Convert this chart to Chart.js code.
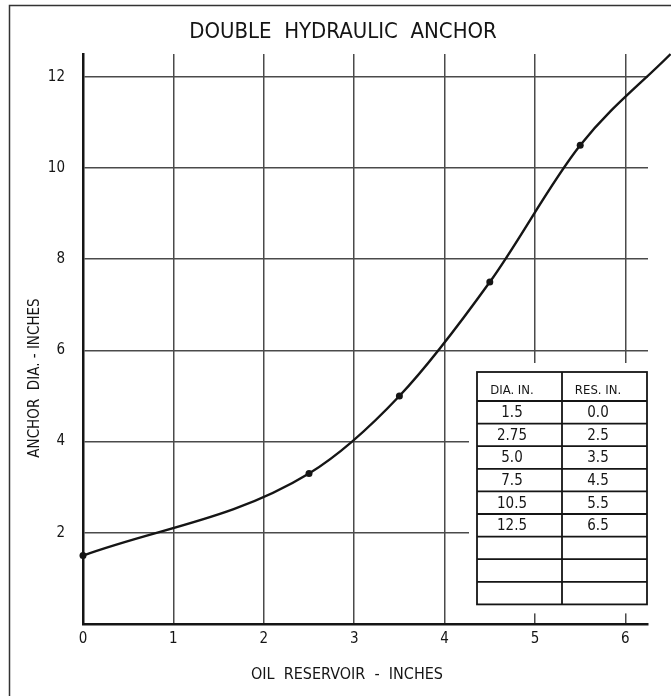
<!DOCTYPE html>
<html>
<head>
<meta charset="utf-8">
<script src="https://cdn.jsdelivr.net/npm/chart.js@4.4.0/dist/chart.umd.min.js"></script>
<style>
body { margin: 0; background: #fff; }
#wrap { width: 671px; height: 696px; position: relative; }
</style>
</head>
<body>
<div id="wrap"><canvas id="chart"></canvas></div>
<script>
// table values, as written on the sheet
const tableDia = ['1.5', '2.75', '5.0', '7.5', '10.5', '12.5'];
const tableRes = ['0.0', '2.5', '3.5', '4.5', '5.5', '6.5'];
const emptyRows = 3;

// dots as they are plotted on the graph (the 2.5 dot sits higher than the table says)
const plotRes = [0.0, 2.5, 3.5, 4.5, 5.5, 6.5];
const plotDia = [1.5, 3.3, 5.0, 7.5, 10.5, 12.5];

const xTickValues = [0, 1, 2, 3, 4, 5, 6];
const yTickValues = [0, 2, 4, 6, 8, 10, 12];

const FONT = '"Liberation Sans Narrow", "DejaVu Sans Condensed", "Liberation Sans", sans-serif';
const INK = '#151515';

const points = plotRes.map((r, i) => ({ x: r, y: plotDia[i] }));

// frame + white background
const framePlugin = {
    id: 'frame',
    beforeDraw(chart) {
        const ctx = chart.ctx;
        ctx.save();
        ctx.fillStyle = '#fff';
        ctx.fillRect(0, 0, chart.width, chart.height);
        ctx.strokeStyle = '#333';
        ctx.lineWidth = 1.5;
        ctx.strokeRect(9.5, 5.5, 720, 720);
        ctx.restore();
    }
};

// axis titles, placed like on the drawing
const axisTitlePlugin = {
    id: 'axisTitles',
    afterDraw(chart) {
        const ctx = chart.ctx;
        ctx.save();
        ctx.fillStyle = INK;
        ctx.textAlign = 'center';
        ctx.textBaseline = 'middle';
        ctx.font = '16px ' + FONT;
        ctx.fillText('OIL  RESERVOIR  -  INCHES', 347, 675);
        ctx.font = '15px ' + FONT;
        ctx.translate(35, 378);
        ctx.rotate(-Math.PI / 2);
        ctx.fillText('ANCHOR  DIA. - INCHES', 0, 0);
        ctx.restore();
    }
};

// the little data table in the lower right corner
const tablePlugin = {
    id: 'dataTable',
    afterDraw(chart) {
        const ctx = chart.ctx;
        const left = 477, right = 647, mid = 562, top = 372, headBottom = 401;
        const nRows = tableDia.length + emptyRows;
        const rowH = 22.6;
        const bottom = headBottom + nRows * rowH;
        ctx.save();
        ctx.fillStyle = '#fff';
        ctx.fillRect(left - 8, top - 9, right - left + 20, bottom - top + 18);
        ctx.strokeStyle = INK;
        ctx.lineWidth = 1.8;
        ctx.strokeRect(left, top, right - left, bottom - top);
        ctx.beginPath();
        ctx.moveTo(mid, top);
        ctx.lineTo(mid, bottom);
        for (let i = 0; i < nRows; i++) {
            const y = headBottom + i * rowH;
            ctx.moveTo(left, y);
            ctx.lineTo(right, y);
        }
        ctx.stroke();

        ctx.fillStyle = INK;
        ctx.textAlign = 'center';
        ctx.textBaseline = 'middle';
        ctx.font = '13px ' + FONT;
        ctx.fillText('DIA. IN.', 512, 391);
        ctx.fillText('RES. IN.', 598, 391);
        ctx.font = '15px ' + FONT;
        tableDia.forEach((d, i) => {
            const y = headBottom + i * rowH + rowH / 2 + 1;
            ctx.fillText(d, 512, y);
            ctx.fillText(tableRes[i], 598, y);
        });
        ctx.restore();
    }
};

const ctx = document.getElementById('chart').getContext('2d');
const chart = new Chart(ctx, {
    type: 'line',
    data: {
        datasets: [{
            data: points,
            borderColor: INK,
            borderWidth: 2.4,
            backgroundColor: INK,
            pointRadius: 3.5,
            pointBackgroundColor: INK,
            pointBorderWidth: 0,
            cubicInterpolationMode: 'monotone',
            clip: false,
            fill: false
        }]
    },
    options: {
        responsive: true,
        maintainAspectRatio: false,
        animation: false,
        layout: { padding: { left: 38, right: 23, top: 0, bottom: 0 } },
        plugins: {
            legend: { display: false },
            tooltip: { enabled: false },
            title: {
                display: true,
                text: 'DOUBLE  HYDRAULIC  ANCHOR',
                color: INK,
                font: { family: FONT, size: 22, weight: 'normal' },
                padding: { top: 19, bottom: 8.6 }
            }
        },
        scales: {
            x: {
                type: 'linear',
                min: 0,
                max: 6.25,
                afterBuildTicks: s => { s.ticks = xTickValues.map(v => ({ value: v })); },
                afterFit: s => { s.height = 72; },
                grid: { color: '#4a4a4a', lineWidth: 1.5, drawTicks: false },
                border: { color: INK, width: 2.5 },
                ticks: {
                    color: INK,
                    padding: 6,
                    font: { family: FONT, size: 15 }
                }
            },
            y: {
                min: 0,
                max: 12.5,
                afterBuildTicks: s => { s.ticks = yTickValues.map(v => ({ value: v })); },
                afterFit: s => { s.width = 45; },
                grid: { color: '#4a4a4a', lineWidth: 1.5, drawTicks: false },
                border: { color: INK, width: 2.5 },
                ticks: {
                    color: INK,
                    padding: 18,
                    font: { family: FONT, size: 15 },
                    callback: v => (v === 0 ? '' : v)
                }
            }
        }
    },
    plugins: [framePlugin, axisTitlePlugin, tablePlugin]
});
</script>
</body>
</html>
